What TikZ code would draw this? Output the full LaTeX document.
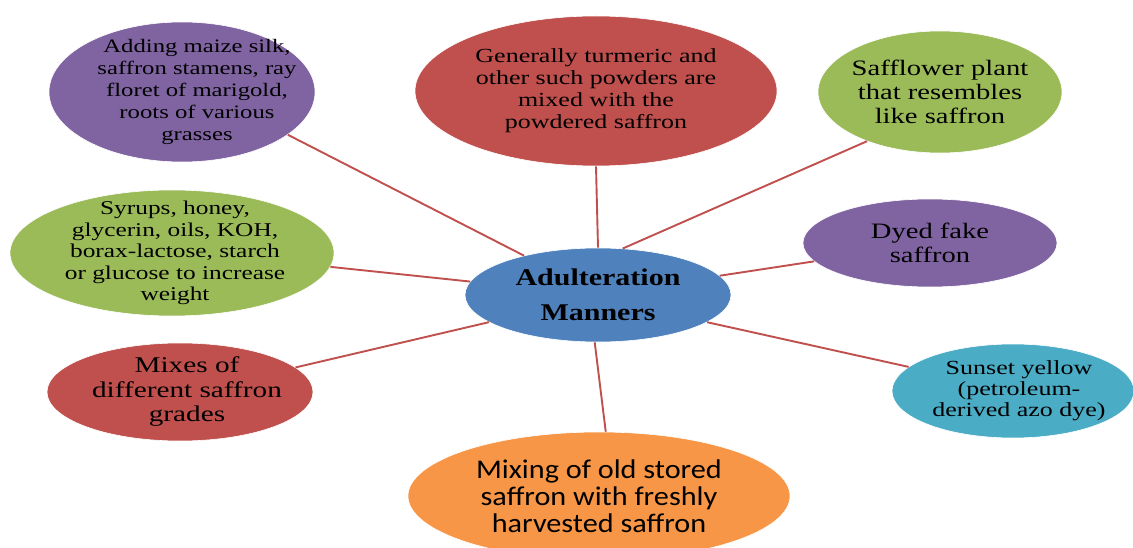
\documentclass[tikz,border=0pt]{standalone}
\usepackage{fontspec}
\setmainfont{Liberation Serif}[FakeStretch=1.3]
\newfontfamily\centerfont{Liberation Serif}[FakeStretch=1.25]
\newfontfamily\calib{Carlito}[FakeStretch=1.12]
\usetikzlibrary{shapes.geometric}
\definecolor{opurple}{HTML}{8064A2}
\definecolor{ored}{HTML}{C0504D}
\definecolor{ogreen}{HTML}{9BBB59}
\definecolor{oblue}{HTML}{4F81BD}
\definecolor{ocyan}{HTML}{4BACC6}
\definecolor{oorange}{HTML}{F79646}
\definecolor{linec}{HTML}{C0504D}
\tikzset{
  bubble/.style={ellipse, inner sep=0pt, draw=white, line width=0.6pt},
  txt/.style={inner sep=0pt, align=center, text=black},
  link/.style={draw=linec, line width=1.9pt},
}
\begin{document}
\begin{tikzpicture}[x=1pt,y=-1pt]
\useasboundingbox (0,0) rectangle (1133,548);
\clip (0,0) rectangle (1133,548);
\fill[white] (0,0) rectangle (1133,548);

\node[bubble, fill=opurple, minimum width=266pt, minimum height=140pt] (tl) at (182,92) {};
\node[txt, font=\fontsize{19}{22}\selectfont] (tlt) at ([xshift=15pt]tl.center)
  {Adding maize silk,\\saffron stamens, ray\\floret of marigold,\\roots of various\\grasses};
\node[bubble, fill=ored, minimum width=362pt, minimum height=150pt] (tc) at (596,91) {};
\node[txt, font=\fontsize{20}{22}\selectfont] (tct) at (tc.center)
  {Generally turmeric and\\other such powders are\\mixed with the\\powdered saffron};
\node[bubble, fill=ogreen, minimum width=244pt, minimum height=122pt] (tr) at (940,92) {};
\node[txt, font=\fontsize{22}{24}\selectfont] (trt) at (tr.center)
  {Safflower plant\\that resembles\\like saffron};
\node[bubble, fill=opurple, minimum width=254pt, minimum height=88pt] (dy) at (930,243) {};
\node[txt, font=\fontsize{22}{24}\selectfont] (dyt) at (dy.center)
  {Dyed fake\\saffron};
\node[bubble, fill=ocyan, minimum width=242pt, minimum height=94pt] (su) at (1013,391) {};
\node[txt, font=\fontsize{20}{21}\selectfont] (sut) at ([xshift=6pt]su.center)
  {Sunset yellow\\(petroleum-\\derived azo dye)};
\node[bubble, fill=oorange, minimum width=382pt, minimum height=128pt] (bo) at (599,496) {};
\node[txt, font=\calib\fontsize{27}{27}\selectfont] (bot) at (bo.center)
  {Mixing of old stored\\saffron with freshly\\harvested saffron};
\node[bubble, fill=ored, minimum width=266pt, minimum height=98pt] (mi) at (180,392) {};
\node[txt, font=\fontsize{22.5}{24.5}\selectfont] (mit) at ([xshift=7pt]mi.center)
  {Mixes of\\different saffron\\grades};
\node[bubble, fill=ogreen, minimum width=324pt, minimum height=126pt] (sy) at (172,253) {};
\node[txt, font=\fontsize{19.5}{21.5}\selectfont] (syt) at ([xshift=3pt]sy.center)
  {Syrups, honey,\\glycerin, oils, KOH,\\borax-lactose, starch\\or glucose to increase\\weight};
\node[bubble, fill=oblue, minimum width=266pt, minimum height=94pt] (c) at (598,295) {};
\node[txt, font=\centerfont\bfseries\fontsize{24}{35}\selectfont] (ct) at (c.center)
  {Adulteration\\Manners};

\draw[link] (c.152) -- (tl.338);
\draw[link] (c.90) -- (tc.270);
\draw[link] (c.62) -- (tr.214);
\draw[link] (c.9) -- (dy.189);
\draw[link] (c.346) -- (su.167);
\draw[link] (c.266) -- (bo.84);
\draw[link] (c.194) -- (mi.12);
\draw[link] (c.174) -- (sy.355);
\end{tikzpicture}
\end{document}
